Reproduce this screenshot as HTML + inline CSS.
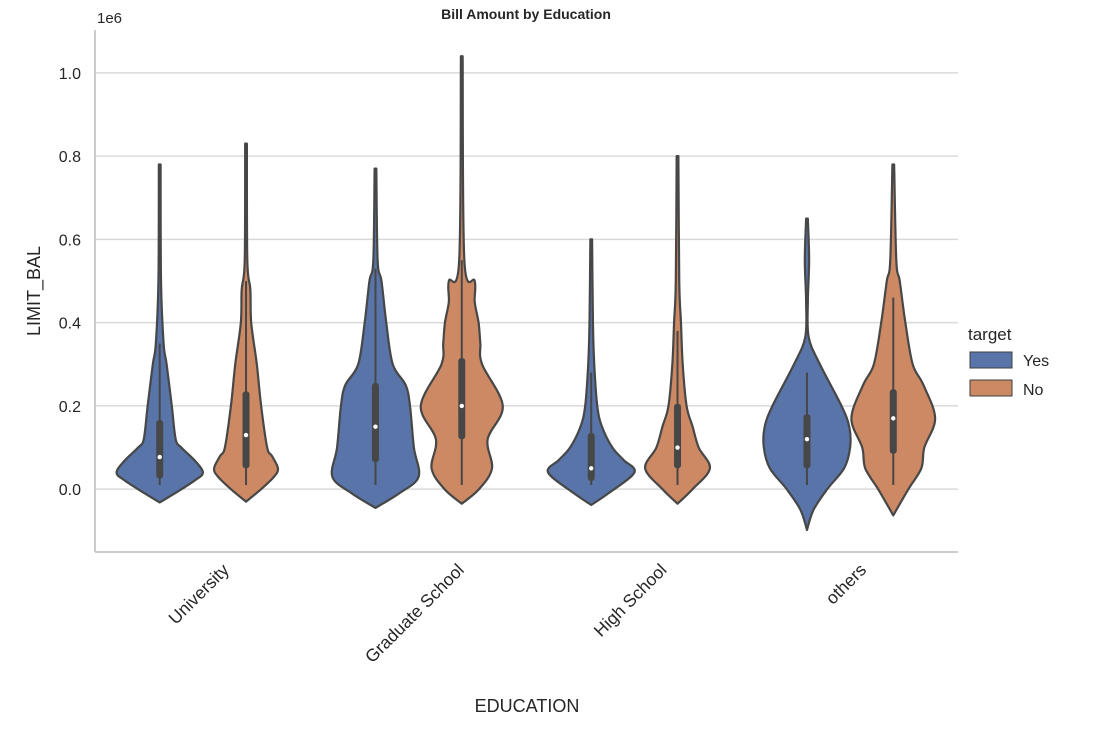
<!DOCTYPE html>
<html><head><meta charset="utf-8"><style>
body{margin:0;background:#fff;}
svg text{font-family:"Liberation Sans","DejaVu Sans",sans-serif;fill:#262626;}
</style></head><body>
<svg id="chart" width="1098" height="737">
<text x="526" y="19" text-anchor="middle" font-size="14" font-weight="bold">Bill Amount by Education</text>
<text x="97" y="23" font-size="15">1e6</text>
<g id="grid"></g><g id="violins"></g><g id="axes"></g>
<text x="527" y="712" text-anchor="middle" font-size="18">EDUCATION</text>
<text transform="translate(40,291) rotate(-90)" text-anchor="middle" font-size="18">LIMIT_BAL</text>
<g>
<text x="968" y="340" font-size="17">target</text>
<rect x="970" y="352" width="42" height="16" fill="#5874a8" stroke="#3f3f3f" stroke-width="1"/>
<text x="1023" y="366" font-size="16">Yes</text>
<rect x="970" y="380" width="42" height="16" fill="#cc8963" stroke="#3f3f3f" stroke-width="1"/>
<text x="1023" y="395" font-size="16">No</text>
</g>
</svg>
<script>
const categories=["University","Graduate School","High School","others"];
const hues=["Yes","No"];
const yTicks=[0,0.2,0.4,0.6,0.8,1.0];
// profiles: [value(1e6), relative density]
const profUniYes=[[-0.032,0],[-0.01,0.35],[0.02,0.8],[0.04,1.0],[0.07,0.8],[0.1,0.5],[0.12,0.37],[0.2,0.28],[0.3,0.16],[0.35,0.09],[0.5,0.03],[0.78,0.02]];
const profUniNo=[[-0.03,0],[0.0,0.35],[0.03,0.65],[0.05,0.74],[0.08,0.6],[0.1,0.49],[0.2,0.35],[0.3,0.25],[0.4,0.12],[0.48,0.1],[0.55,0.03],[0.83,0.02]];
const profGradYes=[[-0.045,0],[-0.01,0.55],[0.03,1.0],[0.1,0.89],[0.2,0.8],[0.25,0.7],[0.3,0.4],[0.4,0.25],[0.5,0.14],[0.55,0.05],[0.77,0.02]];
const profGradNo=[[-0.035,0],[0.0,0.4],[0.05,0.7],[0.12,0.6],[0.2,0.95],[0.3,0.47],[0.35,0.43],[0.4,0.39],[0.45,0.3],[0.5,0.3],[0.55,0.06],[1.04,0.02]];
const profHsYes=[[-0.038,0],[-0.01,0.4],[0.04,1.0],[0.07,0.75],[0.1,0.49],[0.15,0.25],[0.2,0.14],[0.3,0.07],[0.4,0.04],[0.6,0.02]];
const profHsNo=[[-0.035,0],[0.0,0.35],[0.05,0.75],[0.1,0.49],[0.15,0.35],[0.2,0.21],[0.3,0.12],[0.4,0.08],[0.5,0.04],[0.8,0.02]];
const profOthYes=[[-0.098,0],[-0.05,0.15],[0.0,0.47],[0.05,0.86],[0.1,1.0],[0.15,0.98],[0.2,0.8],[0.3,0.3],[0.365,0.04],[0.45,0.02],[0.55,0.05],[0.65,0.02]];
const profOthNo=[[-0.063,0],[0.0,0.35],[0.05,0.65],[0.1,0.72],[0.17,0.97],[0.25,0.7],[0.3,0.45],[0.4,0.28],[0.5,0.15],[0.55,0.07],[0.78,0.02]];
// box stats: [whiskerLow, q1, median, q3, whiskerHigh]
const boxUni=[[0.01,0.026,0.077,0.166,0.35],[0.01,0.05,0.13,0.235,0.5]];
const boxGrad=[[0.01,0.065,0.15,0.255,0.53],[0.01,0.12,0.2,0.315,0.55]];
const boxHs=[[0.01,0.02,0.05,0.135,0.28],[0.01,0.05,0.1,0.205,0.38]];
const boxOth=[[0.01,0.05,0.12,0.18,0.28],[0.01,0.085,0.17,0.24,0.46]];

const profiles=[[profUniYes,profUniNo],[profGradYes,profGradNo],[profHsYes,profHsNo],[profOthYes,profOthNo]];
const boxes=[boxUni,boxGrad,boxHs,boxOth];
const colors=["#5874a8","#cc8963"];
const X0=95,X1=958,Y0=30,Y1=552,vMin=-0.151,vMax=1.103;
const y=v=>Y1-(v-vMin)/(vMax-vMin)*(Y1-Y0);
const band=(X1-X0)/categories.length;
const xc=(i,h)=>X0+band*(i+0.5)+(h===0?-1:1)*band*0.2;
const maxHW=band*0.2;
const NS="http://www.w3.org/2000/svg";
function mk(tag,attrs,parent){const e=document.createElementNS(NS,tag);for(const k in attrs)e.setAttribute(k,attrs[k]);parent.appendChild(e);return e;}
const grid=document.getElementById('grid'),vg=document.getElementById('violins'),ax=document.getElementById('axes');
yTicks.forEach(t=>{
  const l=mk('line',{x1:X0,x2:X1,y1:y(t),y2:y(t),stroke:'#d9d9d9','stroke-width':1.5},grid);
  
  
  const tx=mk('text',{x:81,y:y(t)+6,'text-anchor':'end','font-size':16},ax);
  tx.textContent=t.toFixed(1);
  
  
});
const sp1=mk('line',{x1:X0,x2:X0,y1:Y0,y2:Y1,stroke:'#cccccc','stroke-width':2},ax);


const sp2=mk('line',{x1:X0,x2:X1,y1:Y1,y2:Y1,stroke:'#cccccc','stroke-width':2},ax);


categories.forEach((c,i)=>{
  const cx=X0+band*(i+0.5);
  const tx=mk('text',{'text-anchor':'middle','font-size':17.5},ax);
  tx.textContent=c;
  
  
  const L=tx.getComputedTextLength();
  const cy=Y1+14+L*0.3536;
  tx.setAttribute('transform',`translate(${cx},${cy+5}) rotate(-45)`);
});
function spline(pts){
  let d=`M${pts[0][0]},${pts[0][1]}`;
  for(let i=0;i<pts.length-1;i++){
    const p0=pts[Math.max(i-1,0)],p1=pts[i],p2=pts[i+1],p3=pts[Math.min(i+2,pts.length-1)];
    const c1=[p1[0]+(p2[0]-p0[0])/6,p1[1]+(p2[1]-p0[1])/6],c2=[p2[0]-(p3[0]-p1[0])/6,p2[1]-(p3[1]-p1[1])/6];
    d+=`C${c1[0]},${c1[1]} ${c2[0]},${c2[1]} ${p2[0]},${p2[1]}`;
  }
  return d;
}
profiles.forEach((pair,i)=>pair.forEach((prof,h)=>{
  const cx=xc(i,h);
  const right=prof.map(p=>[cx+p[1]*maxHW,y(p[0])]);
  const left=prof.slice().reverse().map(p=>[cx-p[1]*maxHW,y(p[0])]);
  const top=prof[prof.length-1];
  let d=spline(right)+` L${cx-top[1]*maxHW},${y(top[0])}`+spline(left).replace(/^M[^C]*/,'')+'Z';
  const v=mk('path',{d:d,fill:colors[h],stroke:'#474747','stroke-width':2.2,'stroke-linejoin':'round'},vg);
  
  
  const b=boxes[i][h];
  const wl=mk('line',{x1:cx,x2:cx,y1:y(b[0]),y2:y(b[4]),stroke:'#474747','stroke-width':2},vg);
  
  
  const bx=mk('rect',{x:cx-3.5,y:y(b[3]),width:7,height:y(b[1])-y(b[3]),rx:3,fill:'#474747'},vg);
  
  
  const md=mk('circle',{cx:cx,cy:y(b[2]),r:2.2,fill:'#fff'},vg);
  
  
}));
</script>
</body></html>
